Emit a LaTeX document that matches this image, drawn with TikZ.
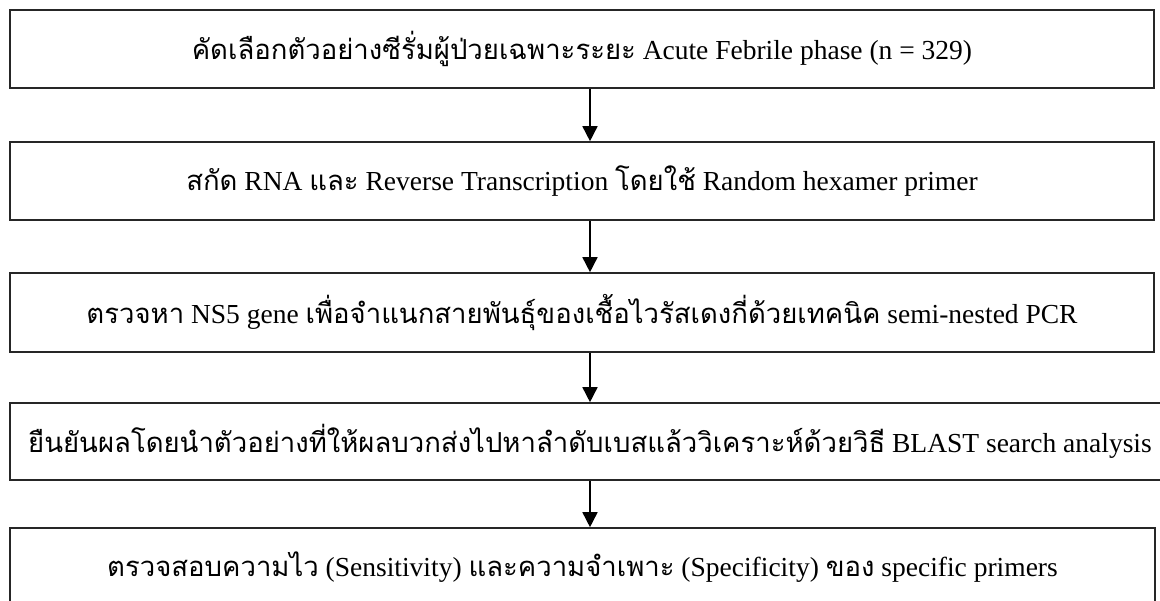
\documentclass[tikz,border=0pt]{standalone}
\usepackage{fontspec}
\setmainfont{Liberation Serif}
\newfontfamily\thai[Script=Thai]{Loma}
\usetikzlibrary{arrows.meta}
\tikzset{
  stepbox/.style={draw=black!85, line width=1.6pt, rectangle, inner sep=0pt,
    font=\fontsize{27.5}{32}\selectfont},
  flowarrow/.style={line width=1.6pt, -{Triangle[length=15pt,width=15pt]}}
}
\begin{document}
\begin{tikzpicture}[x=1pt,y=-1pt]
\useasboundingbox (0,0) rectangle (1160,601);
\clip (0,0) rectangle (1160,601);
\node[stepbox, minimum width=1144pt, minimum height=78pt] (b1) at (582,49)
  {{\thai คัดเลือกตัวอย่างซีรั่มผู้ป่วยเฉพาะระยะ} Acute Febrile phase (n = 329)};
\node[stepbox, minimum width=1144pt, minimum height=78pt] (b2) at (582,181)
  {{\thai สกัด} RNA {\thai และ} Reverse Transcription {\thai โดยใช้} Random hexamer primer};
\node[stepbox, minimum width=1144pt, minimum height=79pt] (b3) at (582,312.5)
  {{\thai ตรวจหา} NS5 gene {\thai เพื่อจำแนกสายพันธุ์ของเชื้อไวรัสเดงกี่ด้วยเทคนิค} semi-nested PCR};
\node[stepbox, minimum width=1160pt, minimum height=77pt] (b4) at (590,441.5)
  {{\thai ยืนยันผลโดยนำตัวอย่างที่ให้ผลบวกส่งไปหาลำดับเบสแล้ววิเคราะห์ด้วยวิธี} BLAST search analysis};
\node[stepbox, minimum width=1145pt, minimum height=78pt] (b5) at (582.5,567)
  {{\thai ตรวจสอบความไว} (Sensitivity) {\thai และความจำเพาะ} (Specificity) {\thai ของ} specific primers};
\draw[flowarrow] ([xshift=8pt]b1.south) -- ([xshift=8pt]b1.south |- b2.north);
\draw[flowarrow] ([xshift=8pt]b2.south) -- ([xshift=8pt]b2.south |- b3.north);
\draw[flowarrow] ([xshift=8pt]b3.south) -- ([xshift=8pt]b3.south |- b4.north);
\draw[flowarrow] ([xshift=8pt]b3.south |- b4.south) -- ([xshift=8pt]b3.south |- b5.north);
\end{tikzpicture}
\end{document}
